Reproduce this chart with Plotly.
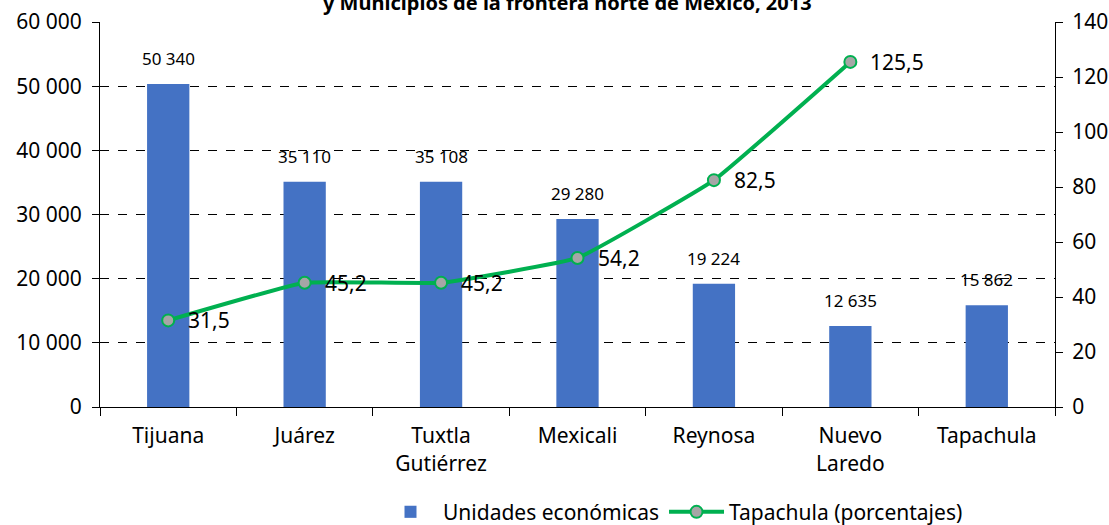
import plotly.graph_objects as go

categories = ["Tijuana", "Juárez", "Tuxtla<br>Gutiérrez", "Mexicali", "Reynosa", "Nuevo<br>Laredo", "Tapachula"]
unidades = [50340, 35110, 35108, 29280, 19224, 12635, 15862]
porcentajes = [31.5, 45.2, 45.2, 54.2, 82.5, 125.5, None]
title_text = "y Municipios de la frontera norte de México, 2013"

FONT = "Noto Sans"
bar_color = "#4472C4"
line_color = "#00B050"

fig = go.Figure()
fig.add_trace(go.Bar(
    x=categories, y=unidades, name="Unidades económicas",
    marker=dict(color=bar_color, line=dict(width=0)),
    yaxis="y",
))
fig.add_trace(go.Scatter(
    x=categories, y=porcentajes, name="Tapachula (porcentajes)",
    mode="lines+markers",
    line=dict(color=line_color, width=4, shape="spline", smoothing=0.3),
    marker=dict(color="#A6A6A6", size=12, line=dict(color=line_color, width=2)),
    yaxis="y2",
))

annotations = []
for c, v in zip(categories, unidades):
    annotations.append(dict(
        x=c, y=v, xref="x", yref="y", text=f"{v:,}".replace(",", " "),
        showarrow=False, yanchor="bottom", yshift=12,
        font=dict(family=FONT, size=17, color="#000000"),
    ))
for c, v in zip(categories, porcentajes):
    if v is None:
        continue
    annotations.append(dict(
        x=c, y=v, xref="x", yref="y2", text=f"{v:.1f}".replace(".", ","),
        showarrow=False, xanchor="left", yanchor="middle", xshift=18,
        font=dict(family=FONT, size=21, color="#000000"),
    ))
annotations.append(dict(
    x=0.49, y=1, xref="paper", yref="paper", text=f"<b>{title_text}</b>",
    showarrow=False, xanchor="center", yanchor="middle", yshift=20,
    font=dict(family=FONT, size=20, color="#000000"),
))

fig.update_layout(
    width=1109, height=525,
    margin=dict(l=100, r=54, t=22, b=118, autoexpand=False),
    paper_bgcolor="white", plot_bgcolor="white",
    separators=", ",
    font=dict(family=FONT, size=21, color="#000000"),
    bargap=0.69,
    showlegend=True,
    legend=dict(orientation="h", x=0.6, xanchor="center", y=-0.22, yanchor="top",
                font=dict(family=FONT, size=21), itemwidth=55, tracegroupgap=10),
    xaxis=dict(
        showline=True, linecolor="#000000", linewidth=1, automargin=False,
        ticks="outside", ticklen=8, tickcolor="#000000", tickson="boundaries",
        ticklabelstandoff=10,
        showgrid=False, tickfont=dict(family=FONT, size=21),
    ),
    yaxis=dict(
        range=[0, 60000], dtick=10000, tickformat=",d", automargin=False,
        showline=True, linecolor="#000000", linewidth=1,
        ticks="outside", ticklen=7, tickcolor="#000000", ticklabelstandoff=6,
        showgrid=True, gridcolor="#000000", gridwidth=1, griddash="dash",
        zeroline=False, tickfont=dict(family=FONT, size=21),
    ),
    yaxis2=dict(
        range=[0, 140], dtick=20, overlaying="y", side="right", automargin=False,
        showline=True, linecolor="#000000", linewidth=1,
        ticks="outside", ticklen=7, tickcolor="#000000", ticklabelstandoff=5,
        showgrid=False, zeroline=False, tickfont=dict(family=FONT, size=21),
    ),
    annotations=annotations,
)

fig.write_html(
    "out.html",
    config={"displayModeBar": False},
    post_script="document.body.style.margin='0';document.body.style.overflow='hidden';",
)
